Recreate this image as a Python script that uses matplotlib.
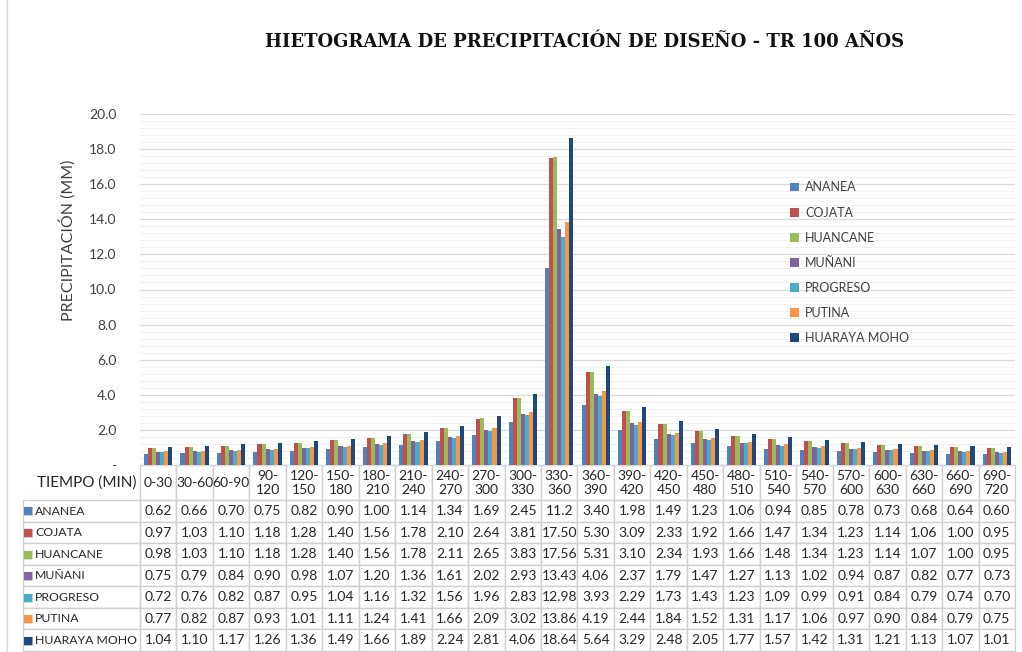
import numpy as np
import matplotlib.pyplot as plt
from matplotlib.ticker import MultipleLocator, FuncFormatter
from matplotlib.table import Table
from matplotlib.lines import Line2D

plt.rcParams['font.family'] = ['Lato', 'DejaVu Sans']

# intervals of 30 min
intervalos = ['0-30', '30-60', '60-90', '90-\n120', '120-\n150', '150-\n180', '180-\n210',
              '210-\n240', '240-\n270', '270-\n300', '300-\n330', '330-\n360', '360-\n390',
              '390-\n420', '420-\n450', '450-\n480', '480-\n510', '510-\n540', '540-\n570',
              '570-\n600', '600-\n630', '630-\n660', '660-\n690', '690-\n720']

ananea = [0.62, 0.66, 0.70, 0.75, 0.82, 0.90, 1.00, 1.14, 1.34, 1.69, 2.45, 11.2,
          3.40, 1.98, 1.49, 1.23, 1.06, 0.94, 0.85, 0.78, 0.73, 0.68, 0.64, 0.60]
cojata = [0.97, 1.03, 1.10, 1.18, 1.28, 1.40, 1.56, 1.78, 2.10, 2.64, 3.81, 17.50,
          5.30, 3.09, 2.33, 1.92, 1.66, 1.47, 1.34, 1.23, 1.14, 1.06, 1.00, 0.95]
huancane = [0.98, 1.03, 1.10, 1.18, 1.28, 1.40, 1.56, 1.78, 2.11, 2.65, 3.83, 17.56,
            5.31, 3.10, 2.34, 1.93, 1.66, 1.48, 1.34, 1.23, 1.14, 1.07, 1.00, 0.95]
munani = [0.75, 0.79, 0.84, 0.90, 0.98, 1.07, 1.20, 1.36, 1.61, 2.02, 2.93, 13.43,
          4.06, 2.37, 1.79, 1.47, 1.27, 1.13, 1.02, 0.94, 0.87, 0.82, 0.77, 0.73]
progreso = [0.72, 0.76, 0.82, 0.87, 0.95, 1.04, 1.16, 1.32, 1.56, 1.96, 2.83, 12.98,
            3.93, 2.29, 1.73, 1.43, 1.23, 1.09, 0.99, 0.91, 0.84, 0.79, 0.74, 0.70]
putina = [0.77, 0.82, 0.87, 0.93, 1.01, 1.11, 1.24, 1.41, 1.66, 2.09, 3.02, 13.86,
          4.19, 2.44, 1.84, 1.52, 1.31, 1.17, 1.06, 0.97, 0.90, 0.84, 0.79, 0.75]
huaraya = [1.04, 1.10, 1.17, 1.26, 1.36, 1.49, 1.66, 1.89, 2.24, 2.81, 4.06, 18.64,
           5.64, 3.29, 2.48, 2.05, 1.77, 1.57, 1.42, 1.31, 1.21, 1.13, 1.07, 1.01]

estaciones = ['ANANEA', 'COJATA', 'HUANCANE', 'MUÑANI', 'PROGRESO', 'PUTINA', 'HUARAYA MOHO']
series = [ananea, cojata, huancane, munani, progreso, putina, huaraya]
colores = ['#4F81BD', '#C0504D', '#9BBB59', '#8064A2', '#4BACC6', '#F79646', '#1F497D']

W, H = 1022, 652
fig = plt.figure(figsize=(W / 100, H / 100), dpi=100)
ax = fig.add_axes([140 / W, 1 - 465 / H, 875 / W, 351 / H])

x = np.arange(len(intervalos))
grupo = 0.78
bw = grupo / len(series)
for i, (vals, col, nom) in enumerate(zip(series, colores, estaciones)):
    ax.bar(x - grupo / 2 + bw * (i + 0.5), vals, width=bw, color=col, label=nom, zorder=3)

ax.set_xlim(-0.5, len(intervalos) - 0.5)
ax.set_ylim(0, 20)
ax.yaxis.set_major_locator(MultipleLocator(2))
ax.yaxis.set_minor_locator(MultipleLocator(0.4))
ax.yaxis.set_major_formatter(FuncFormatter(lambda v, p: '-' if v == 0 else f'{v:.1f}'))
ax.grid(axis='y', which='major', color='#d9d9d9', lw=0.9, zorder=0)
ax.grid(axis='y', which='minor', color='#f0f0f0', lw=0.8, zorder=0)
ax.set_xticks([])
ax.tick_params(axis='y', which='both', length=0, pad=17, labelsize=10, labelcolor='#404040')
for s in ['top', 'right', 'left']:
    ax.spines[s].set_visible(False)
ax.spines['bottom'].set_color('#d9d9d9')

ax.set_ylabel('PRECIPITACIÓN (MM)', fontsize=11.5, color='#404040')
ax.yaxis.set_label_coords(-0.074, 0.64)

ax.legend(loc='upper left', bbox_to_anchor=(0.73, 0.84), frameon=False, fontsize=9,
          labelspacing=1.05, handlelength=0.7, handleheight=0.7, handletextpad=0.5,
          labelcolor='#404040')

fig.text(0.572, 1 - 42 / H, 'HIETOGRAMA DE PRECIPITACIÓN DE DISEÑO - TR 100 AÑOS',
         ha='center', va='center', fontsize=13, fontweight='bold', family='DejaVu Serif',
         color='#111111')

# data table under the chart
tabla = Table(ax, bbox=[(23 - 140) / 875, (465 - 651) / 351, (1015 - 23) / 875, (651 - 465) / 351])
edge = '#cfcfcf'
w_sq, w_nom, w_dat = 10, 107, 36.46
h_head, h_row = 35, 21.3
c = tabla.add_cell(0, 0, w_sq, h_head, text='', loc='center')
c.visible_edges = 'open'
c = tabla.add_cell(0, 1, w_nom, h_head, text='TIEMPO (MIN)', loc='center')
c.visible_edges = 'open'
for j, lab in enumerate(intervalos):
    c = tabla.add_cell(0, j + 2, w_dat, h_head, text=lab, loc='center')
    c.set_edgecolor(edge)
for i, (nom, col, vals) in enumerate(zip(estaciones, colores, series)):
    c = tabla.add_cell(i + 1, 0, w_sq, h_row, text='■', loc='right')
    c.visible_edges = 'BTL'
    c.set_edgecolor(edge)
    c.get_text().set_color(col)
    c.get_text().set_family('DejaVu Sans')
    c.PAD = 0.0
    c = tabla.add_cell(i + 1, 1, w_nom, h_row, text=nom, loc='left')
    c.visible_edges = 'BTR'
    c.set_edgecolor(edge)
    c.PAD = 0.02
    for j, v in enumerate(vals):
        txt = f'{v:.1f}' if v == 11.2 else f'{v:.2f}'
        c = tabla.add_cell(i + 1, j + 2, w_dat, h_row, text=txt, loc='center')
        c.set_edgecolor(edge)
tabla.auto_set_font_size(False)
tabla.set_fontsize(10)
for (r, cc), cell in tabla.get_celld().items():
    if cc == 0 and r > 0:
        cell.set_fontsize(8)
    else:
        cell.get_text().set_color('#262626')
    if cc == 1 and r > 0:
        cell.set_fontsize(8.8)
tabla.get_celld()[(0, 1)].set_fontsize(11)
ax.add_table(tabla)

fig.add_artist(Line2D([7 / W, 7 / W], [0, 1], color='#d9d9d9', lw=1))

fig.savefig('out.png', dpi=100, facecolor='white')
